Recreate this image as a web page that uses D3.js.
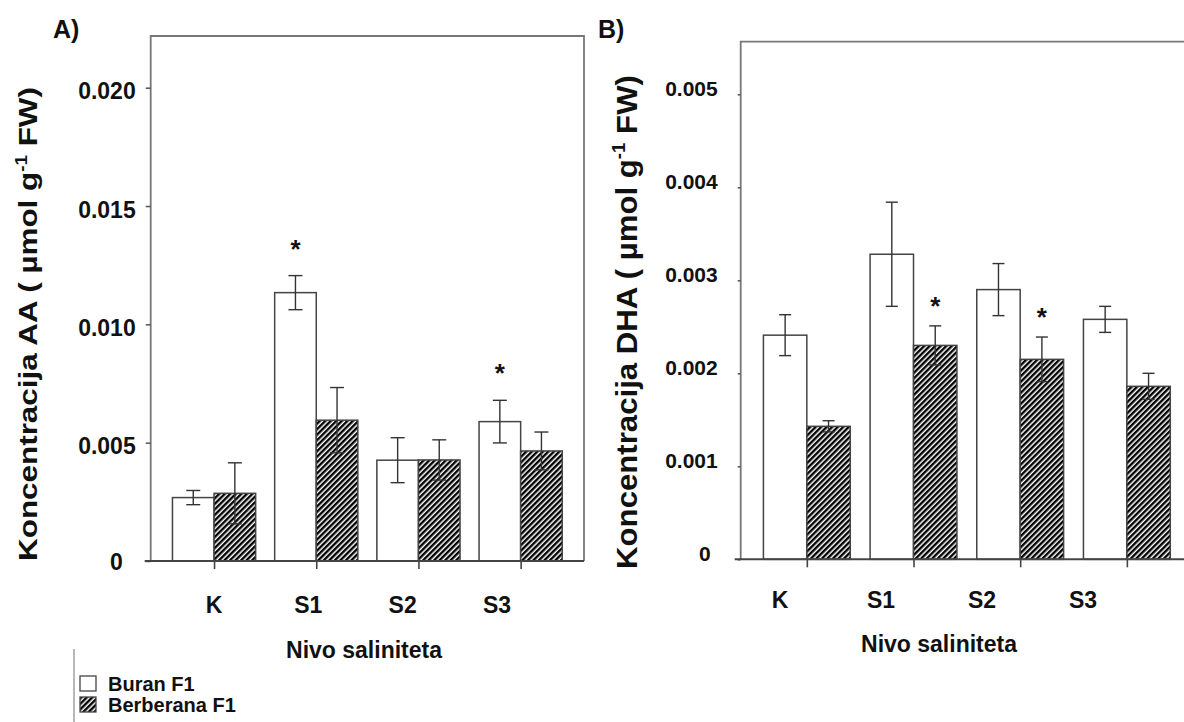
<!DOCTYPE html>
<html>
<head>
<meta charset="utf-8">
<script src="https://cdn.jsdelivr.net/npm/d3@7"></script>
<style>
  body { margin: 0; background: #fff; }
  text { font-family: "Liberation Sans", Arial, sans-serif; font-weight: bold; fill: #111; }
</style>
</head>
<body>
<svg id="chart" width="1184" height="722"></svg>
<script>
// ---- data ----
const categories = ["K", "S1", "S2", "S3"];
const seriesNames = ["Buran F1", "Berberana F1"];

// panel A: AA
const aaBuran = [0.00268, 0.01134, 0.00426, 0.00589];
const aaBuranErr = [0.00030, 0.00072, 0.00095, 0.00090];
const aaBerberana = [0.00286, 0.00595, 0.00427, 0.00465];
const aaBerberanaErr = [0.00129, 0.00138, 0.00085, 0.00080];
const aaStars = [[1, 0], [3, 0]];          // [category index, series index]
const aaTicks = [0, 0.005, 0.010, 0.015, 0.020];

// panel B: DHA
const dhaBuran = [0.00241, 0.00328, 0.00290, 0.00258];
const dhaBuranErr = [0.00022, 0.00056, 0.00028, 0.00014];
const dhaBerberana = [0.00143, 0.00230, 0.00215, 0.00186];
const dhaBerberanaErr = [0.00006, 0.00021, 0.00024, 0.00014];
const dhaStars = [[1, 1], [2, 1]];
const dhaTicks = [0, 0.001, 0.002, 0.003, 0.004, 0.005];

const svg = d3.select("#chart");

// hatch pattern for Berberana F1
const defs = svg.append("defs");
const hatch = defs.append("pattern")
   .attr("id", "hatch")
   .attr("patternUnits", "userSpaceOnUse")
   .attr("width", 3.9).attr("height", 3.9)
   .attr("patternTransform", "rotate(45)");
hatch.append("rect").attr("width", 3.9).attr("height", 3.9).attr("fill", "#fff");
hatch.append("rect").attr("width", 2.4).attr("height", 3.9).attr("fill", "#000");

const fills = ["#fff", "url(#hatch)"];

// draws one panel
const drawPanel = (p) => {
   const g = svg.append("g");

   // y scale calibrated on two tick positions
   const y = d3.scaleLinear()
      .domain([0, p.ticks[p.ticks.length - 1]])
      .range([p.bottom, p.topTick]);
   // group centres
   const x = d3.scalePoint()
      .domain(categories)
      .range([p.left, p.right])
      .padding(0.62);
   const bw = x.step() * 0.407;
   // category labels sit a bit left of the ticks in the original
   const xLab = d3.scalePoint().domain(categories).range(p.labelRange);

   // frame
   g.append("path")
      .attr("d", `M${p.left},${p.bottom} V${p.top} H${p.right} V${p.bottom}`)
      .attr("fill", "none").attr("stroke", "#777").attr("stroke-width", 1.8);

   // bars
   const series = [
      { vals: p.buran, errs: p.buranErr },
      { vals: p.berberana, errs: p.berberanaErr }
   ];
   series.forEach((s, si) => {
      g.append("g").selectAll("rect")
         .data(categories)
         .join("rect")
         .attr("x", (c) => x(c) - bw + si * bw)
         .attr("width", bw)
         .attr("y", (c, i) => y(s.vals[i]))
         .attr("height", (c, i) => y(0) - y(s.vals[i]))
         .attr("fill", fills[si])
         .attr("stroke", "#444")
         .attr("stroke-width", 1.5);
   });

   // error bars
   series.forEach((s, si) => {
      const eg = g.append("g").attr("stroke", "#333").attr("stroke-width", 1.4);
      categories.forEach((c, i) => {
         const cx = x(c) - bw / 2 + si * bw;
         const hi = y(s.vals[i] + s.errs[i]);
         const lo = y(s.vals[i] - s.errs[i]);
         eg.append("line").attr("x1", cx).attr("x2", cx).attr("y1", hi).attr("y2", lo);
         eg.append("line").attr("x1", cx - p.cap).attr("x2", cx + p.cap).attr("y1", hi).attr("y2", hi);
         eg.append("line").attr("x1", cx - p.cap).attr("x2", cx + p.cap).attr("y1", lo).attr("y2", lo);
      });
   });

   // significance stars
   p.stars.forEach(([ci, si]) => {
      const s = series[si];
      const c = categories[ci];
      g.append("text")
         .attr("x", x(c) - bw / 2 + si * bw)
         .attr("y", y(s.vals[ci] + s.errs[ci]) - p.starGap + 15)
         .attr("text-anchor", "middle")
         .attr("font-size", 26)
         .text("*");
   });

   // left axis
   const yAxis = d3.axisLeft(y)
      .tickValues(p.ticks)
      .tickSize(p.tickLen)
      .tickPadding(p.tickPad)
      .tickFormat((d) => d === 0 ? "0" : d3.format(".3f")(d));
   const ya = g.append("g")
      .attr("transform", `translate(${p.left},0)`)
      .call(yAxis);
   ya.select(".domain").remove();
   ya.selectAll("line").attr("stroke", "#555").attr("stroke-width", 1.5);
   ya.selectAll("text")
      .attr("font-size", p.tickFont)
      .attr("dy", `${p.tickDy}px`)
      .style("font-family", "'Liberation Sans', Arial, sans-serif")
      .style("font-weight", "bold")
      .attr("fill", "#111");
   ya.selectAll(".tick").filter((d) => d === 0).select("text")
      .attr("dx", p.zeroDx)
      .attr("dy", `${p.zeroDy}px`);

   // bottom axis
   const xAxis = d3.axisBottom(x).tickSize(8).tickSizeOuter(0).tickFormat("");
   const xa = g.append("g")
      .attr("transform", `translate(0,${p.bottom})`)
      .call(xAxis);
   xa.select(".domain").remove();
   xa.selectAll("line").attr("stroke", "#444").attr("stroke-width", 1.6);
   g.append("line")
      .attr("x1", p.left - 6).attr("x2", p.right)
      .attr("y1", p.bottom).attr("y2", p.bottom)
      .attr("stroke", "#444").attr("stroke-width", 2);

   // category labels
   g.append("g").selectAll("text")
      .data(categories)
      .join("text")
      .attr("x", (c) => xLab(c))
      .attr("y", p.labelY)
      .attr("text-anchor", "middle")
      .attr("font-size", 23)
      .text((c) => c);

   // x title
   g.append("text")
      .attr("x", p.xTitleX).attr("y", p.xTitleY)
      .attr("text-anchor", "middle")
      .attr("font-size", 23)
      .text("Nivo saliniteta");

   // y title, stretched along its length to the original span
   const yt = g.append("text")
      .attr("text-anchor", "middle")
      .attr("font-size", p.yTitleFont);
   yt.append("tspan").text(`Koncentracija ${p.quantity} ( µmol g`);
   yt.append("tspan").attr("font-size", p.yTitleFont * 0.6).attr("dy", -p.yTitleFont * 0.4).text("-1");
   yt.append("tspan").attr("dy", p.yTitleFont * 0.4).text(" FW)");
   const len = yt.node().getComputedTextLength();
   yt.attr("transform", `translate(${p.yTitleX},${p.yTitleY}) rotate(-90) scale(${p.yTitleLen / len},1)`);

   // panel letter
   g.append("text")
      .attr("x", p.letterX).attr("y", 38)
      .attr("font-size", 25)
      .text(p.letter);
};

drawPanel({
   letter: "A)", letterX: 53, quantity: "AA",
   buran: aaBuran, buranErr: aaBuranErr,
   berberana: aaBerberana, berberanaErr: aaBerberanaErr,
   stars: aaStars, ticks: aaTicks,
   left: 150.7, right: 584, top: 36, bottom: 561, topTick: 87.7,
   tickLen: 5, tickPad: 10, tickFont: 23, tickDy: 11, zeroDx: -13, zeroDy: 8,
   cap: 7, starGap: 33,
   labelRange: [214, 497], labelY: 613,
   xTitleX: 364, xTitleY: 658,
   yTitleX: 37, yTitleY: 324, yTitleFont: 26, yTitleLen: 474
});

drawPanel({
   letter: "B)", letterX: 598, quantity: "DHA",
   buran: dhaBuran, buranErr: dhaBuranErr,
   berberana: dhaBerberana, berberanaErr: dhaBerberanaErr,
   stars: dhaStars, ticks: dhaTicks,
   left: 740.7, right: 1193, top: 41.7, bottom: 559.3, topTick: 94.3,
   tickLen: 3, tickPad: 20, tickFont: 21, tickDy: 1, zeroDx: -7, zeroDy: 1,
   cap: 6, starGap: 26,
   labelRange: [780, 1083], labelY: 608,
   xTitleX: 939, xTitleY: 652,
   yTitleX: 637, yTitleY: 322, yTitleFont: 30, yTitleLen: 494
});

// legend
const legend = svg.append("g");
legend.append("line")
   .attr("x1", 74).attr("x2", 74).attr("y1", 649).attr("y2", 722)
   .attr("stroke", "#888").attr("stroke-width", 1.2);
const legendRows = legend.selectAll("g.row")
   .data(seriesNames)
   .join("g")
   .attr("class", "row")
   .attr("transform", (d, i) => `translate(80,${676 + i * 21})`);
legendRows.append("rect")
   .attr("width", 16).attr("height", 15)
   .attr("fill", (d, i) => fills[i])
   .attr("stroke", "#444").attr("stroke-width", 1.3);
legendRows.append("text")
   .attr("x", 28).attr("y", 15)
   .attr("font-size", 20)
   .text((d) => d);
</script>
</body>
</html>
